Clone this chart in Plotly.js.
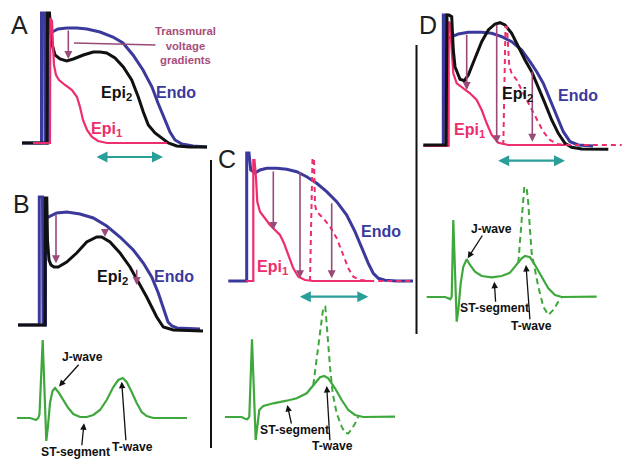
<!DOCTYPE html>
<html><head><meta charset="utf-8">
<script src="https://cdn.plot.ly/plotly-3.0.1.min.js"></script>
<style>html,body{margin:0;padding:0;background:#fff}#chart{width:623px;height:459px}</style>
</head><body><div id="chart"></div>
<script>
// ---------------- DATA (time, amplitude; local panel units) ----------------
// Panel A action potentials
const endoA_t = [22, 41.5, 41.5, 44.5, 45, 47.8, 47.8, 52, 58, 67, 77, 87, 100, 113, 123, 133, 143, 152, 158, 165, 170, 175, 182, 193, 207];
const endoA_v = [2, 2, 132, 132, 2, 2, 112, 113, 116, 117, 117, 116, 113, 108, 102, 90, 75, 58, 42, 25, 13, 5, 1, -1, -2];
const epi2A_t = [22, 47, 47.5, 49.5, 50.5, 51.7, 55, 60, 66.7, 73.3, 83.3, 93.3, 100, 106.7, 115, 123.3, 131.7, 138.3, 143.3, 148.3, 155, 161.7, 168.3, 176.7, 190, 207];
const epi2A_v = [2, 2, 132, 132, 115, 102, 90, 86, 84, 86, 90, 93, 93, 92, 87, 78, 65, 48, 33, 20, 12, 7, 2, -1, -2, -2];
const epi1A_t = [33, 50, 50.3, 52, 53, 54, 56, 59, 65, 72, 77, 80, 83, 87, 92, 98, 107, 167];
const epi1A_v = [2, 2, 127, 124, 100, 80, 70, 65, 60, 55, 48, 38, 25, 15, 8, 4, 2, 2];

// Panel B action potentials
const endoB_t = [18, 39.3, 39.3, 42.5, 43, 45.5, 45.5, 46.7, 56.7, 66.7, 80, 93.3, 106.7, 120, 133.3, 143.3, 151.7, 158.3, 165, 168, 172, 177, 200];
const endoB_v = [5, 5, 133, 133, 5, 5, 110, 112, 117, 118, 116, 112, 104, 93, 80, 67, 53, 37, 17, 8, 4, 2, 1];
const epi2B_t = [18, 45, 45.3, 46.8, 47.5, 49, 51, 54, 58.3, 66.7, 76.7, 86.7, 96.7, 101.7, 110, 120, 130, 138.3, 146.7, 156.7, 163.3, 173.3, 203];
const epi2B_v = [5, 5, 132, 132, 90, 70, 65, 63, 63, 68, 77, 88, 93, 93, 88, 77, 63, 48, 33, 13, 3, 0, -1];
// Panel B ECG
const ecgB_t = [17, 30, 33.3, 36, 38.3, 39.5, 42.7, 46.3, 48, 50, 52.5, 55, 58.3, 63.3, 68.3, 73.3, 80, 86.7, 93.3, 100, 106.7, 113.3, 118.3, 122.7, 126.7, 131.7, 136.7, 141.7, 146.7, 153.3, 166.7, 187];
const ecgB_v = [0, 0, -1, -2, 0, 4, 78, -23, -8, 15, 27, 30, 26, 18, 10, 4, 1, 1, 3, 8, 18, 31, 38, 40, 36, 26, 15, 6, 2, 0, 0, 0];

// Panel C action potentials
const endoC_t = [18.3, 36.7, 36.7, 39, 40.7, 45, 50, 56.7, 66.7, 76.7, 86.7, 96.7, 106.7, 116.7, 126.7, 136.7, 145, 151.7, 158.3, 163.3, 168.3, 175, 186.7, 203];
const endoC_v = [0, 0, 128, 128, 111, 108, 111, 112.7, 112.7, 111.7, 109.3, 104.3, 97.7, 89.3, 79.3, 66, 49.3, 32.7, 17.7, 7.7, 2.7, 0.7, 0, 0];
const epi1C_t = [36, 43.3, 43.3, 44.5, 46, 47.3, 50, 55, 60, 65, 70, 74, 78.3, 83.3, 88.3, 95, 103.3, 160];
const epi1C_v = [0, 0, 121, 121, 103, 79.3, 69.3, 62.7, 56, 51, 46, 37.7, 26, 12.7, 4.3, 1, 0, 0];
const epiDashC_t = [100, 102.5, 104, 105, 106.7, 113.3, 120, 126.7, 133.3, 138.3, 143.3, 150, 160, 203];
const epiDashC_v = [0, 122.7, 122.7, 76, 69.3, 62.7, 54.3, 42.7, 26, 12.7, 4.3, 1, 0, 0];
// Panel C ECG
const ecgC_t = [15, 31.7, 35, 37.3, 39.3, 42, 45.7, 47.3, 49.3, 53.3, 63.3, 76.7, 86.7, 96.7, 103.3, 110, 114.3, 118.3, 125, 131.7, 138.3, 145, 153.3, 185];
const ecgC_v = [0, 0, -1.7, -2.3, 0.3, 77.7, -23, -9.7, 7, 11, 13.7, 16.3, 18.7, 23.7, 32, 39.7, 41, 38.7, 28.7, 17, 7, 2, 0, 0.3];
const ecgCdash_t = [103.3, 113.3, 115.3, 117.3, 120, 122.7, 126.7, 131.7, 135, 138.3, 141.7, 146, 148.3];
const ecgCdash_v = [32, 109.7, 110.3, 83.7, 50.3, 23.7, 3.7, -9.7, -15.7, -16.3, -12.3, -4.7, 0.3];

// Panel D action potentials
const endoD_t = [28.3, 28.3, 31, 31.5, 33, 33, 36.7, 43.3, 53.3, 66.7, 76.7, 86.7, 96.7, 106.7, 115, 121.7, 128.3, 135, 141.7, 148.3, 155, 163.3, 178];
const endoD_v = [0, 130, 130, 0, 0, 106.7, 108.3, 111, 112.7, 112.7, 111.7, 108.3, 103.3, 95, 83.3, 73.3, 61.7, 45, 28.3, 13.3, 3.3, 0, -1];
const epi2D_t = [8.3, 31, 32, 34, 36.7, 38.3, 40, 45, 49.3, 53.3, 60, 66.7, 73.3, 80, 85, 90, 96.7, 103.3, 110, 116.7, 123.3, 130, 136.7, 143.3, 150, 156.7, 166.7, 193.3];
const epi2D_v = [0, 0, 130, 130, 128.3, 95, 78.3, 65.7, 64.3, 70, 86.7, 103.3, 115, 121, 122.3, 120, 111.7, 98.3, 85, 73.3, 58.3, 41.7, 25, 11.7, 1.7, -2.3, -4, -4.3];
const epi1D_t = [8.3, 33.3, 33.3, 35, 36.7, 38.3, 41.7, 48.3, 55, 61.7, 66.7, 71.7, 76.7, 83.3, 93.3, 150];
const epi1D_v = [-1, -1, 123.3, 121.7, 95, 71.7, 61.7, 56.7, 51.7, 45, 35, 21.7, 10, 2.3, 0, 0];
const epiDashD_t = [88.3, 90.5, 92, 93, 94.3, 96.7, 101.7, 108.3, 115, 121.7, 128.3, 135, 143.3, 155, 206.7];
const epiDashD_v = [0, 118.3, 118.3, 95, 78.3, 71.7, 65, 51.7, 38.3, 25, 13.3, 5, 0.7, 0, 0];
// Panel D ECG
const ecgD_t = [11.7, 30, 33.3, 35.3, 36.7, 38.3, 41.7, 43.3, 45.7, 48.3, 51.7, 55, 60, 66.7, 76.7, 86.7, 95, 101.7, 106.7, 110, 115, 120, 126.7, 133.3, 140, 146.7, 181.7];
const ecgD_v = [0, 0, -1.3, -2.3, 0.3, 77, -24.7, -13, 13.7, 30.3, 37.7, 32, 25.3, 21, 19.7, 21, 24.3, 32, 38.7, 41, 39.7, 32, 20.3, 8.7, 2, 0, 0.3];
const ecgDdash_t = [103.3, 109.3, 111.7, 113.3, 115, 116.7, 120, 123.3, 128.3, 133.3, 138.3, 143.3, 146.7];
const ecgDdash_v = [34.2, 110.3, 108.7, 93.7, 67, 43.7, 27, 10.3, -9.7, -18, -13, -4.7, -1.3];

// Transmural voltage gradient arrows (time, top level, bottom level)
const gradA_t = [68.3], gradA_top = [116], gradA_bot = [86];
const gradB_t = [56, 105, 136.7], gradB_top = [116.7, 102, 61.7], gradB_bot = [66.7, 93, 45];
const gradC_t = [63.3, 90, 121.7], gradC_top = [111, 110, 79.3], gradC_bot = [51, 2.7, 2.7];
const gradD_t = [51.7, 81.7, 117.3], gradD_top = [111.7, 121.7, 75], gradD_bot = [55, 1.7, 3.3];

// QT-interval (double) arrows: start, end, level
const qtA = [95, 163, -12];
const qtC = [88.3, 158.3, -15.7];
const qtD = [81.7, 150, -15.7];

// Texts
const panelLetters = ['A', 'B', 'C', 'D'];
const curveNames = {endo: 'Endo', epi1: 'Epi<sub>1</sub>', epi2: 'Epi<sub>2</sub>'};
const gradientText = 'Transmural<br>voltage<br>gradients';
const ecgNames = {j: 'J-wave', st: 'ST-segment', t: 'T-wave'};

// ---------------- STYLE / LAYOUT ----------------
const BLUE = '#3b3a9c', PINK = '#ee2d6c', BLACK = '#111111', MAUVE = '#9a4a78',
      TEAL = '#2a9e98', GREEN = '#3fa83d', GRADTXT = '#a84d7c';
const FONT = 'Liberation Sans, Arial, sans-serif';
const ECGFS = 12.2;
const W = 623, H = 459;

// panel boxes in pixels: [left, top, right, bottom], local x origin, local baseline
const boxes = {
  '':  {b: [0, 0, 212, 172], xo: 0, base: 145},     // A
  '2': {b: [0, 175, 210, 335], xo: 0, base: 330},   // B
  '3': {b: [0, 335, 210, 459], xo: 0, base: 418},   // B ECG
  '4': {b: [212, 145, 416, 300], xo: 210, base: 281}, // C
  '5': {b: [212, 300, 416, 459], xo: 210, base: 417}, // C ECG
  '6': {b: [417, 0, 623, 170], xo: 415, base: 145},   // D
  '7': {b: [417, 170, 623, 340], xo: 415, base: 297}  // D ECG
};

const layout = {
  width: W, height: H, margin: {l: 0, r: 0, t: 0, b: 0},
  paper_bgcolor: '#ffffff', plot_bgcolor: 'rgba(0,0,0,0)',
  showlegend: false, annotations: [], shapes: []
};
for (const k in boxes) {
  const bx = boxes[k], [L, T, R, B] = bx.b;
  layout['xaxis' + k] = {domain: [L / W, R / W], range: [L - bx.xo, R - bx.xo], visible: false, fixedrange: true, anchor: 'y' + k};
  layout['yaxis' + k] = {domain: [(H - B) / H, (H - T) / H], range: [bx.base - B, bx.base - T], visible: false, fixedrange: true, anchor: 'x' + k};
}

function ln(t, v, color, width, ax, dash) {
  return {type: 'scatter', mode: 'lines', x: t, y: v, xaxis: 'x' + ax, yaxis: 'y' + ax,
    line: {color: color, width: width, dash: dash || 'solid', shape: 'linear'},
    hoverinfo: 'skip', showlegend: false};
}

const traces = [
  ln(endoA_t, endoA_v, BLUE, 3, ''), ln(epi2A_t, epi2A_v, BLACK, 3, ''), ln(epi1A_t, epi1A_v, PINK, 2.2, ''),
  ln(endoB_t, endoB_v, BLUE, 3, '2'), ln(epi2B_t, epi2B_v, BLACK, 3, '2'),
  ln(ecgB_t, ecgB_v, GREEN, 2.2, '3'),
  ln(endoC_t, endoC_v, BLUE, 3, '4'), ln(epi1C_t, epi1C_v, PINK, 2.2, '4'), ln(epiDashC_t, epiDashC_v, PINK, 2, '4', '5px,4px'),
  ln(ecgC_t, ecgC_v, GREEN, 2.2, '5'), ln(ecgCdash_t, ecgCdash_v, GREEN, 2, '5', '6px,4px'),
  ln(endoD_t, endoD_v, BLUE, 3, '6'), ln(epi1D_t, epi1D_v, PINK, 2.2, '6'), ln(epi2D_t, epi2D_v, BLACK, 3, '6'), ln(epiDashD_t, epiDashD_v, PINK, 2, '6', '5px,4px'),
  ln(ecgD_t, ecgD_v, GREEN, 2.2, '7'), ln(ecgDdash_t, ecgDdash_v, GREEN, 2, '7', '6px,4px')
];

const ann = layout.annotations;
function txt(ax, x, y, text, color, size, bold, extra) {
  ann.push(Object.assign({xref: 'x' + ax, yref: 'y' + ax, x: x, y: y, text: bold ? '<b>' + text + '</b>' : text,
    showarrow: false, xanchor: 'center', yanchor: 'middle', font: {family: FONT, size: size, color: color}}, extra || {}));
}
function arrow(ax, x0, y0, x1, y1, color, width, head, extra) {
  ann.push(Object.assign({xref: 'x' + ax, yref: 'y' + ax, axref: 'x' + ax, ayref: 'y' + ax,
    x: x1, y: y1, ax: x0, ay: y0, text: '', showarrow: true, arrowhead: head, arrowsize: 1,
    arrowwidth: width, arrowcolor: color, standoff: 0, startstandoff: 0}, extra || {}));
}
function gradArrows(ax, t, top, bot) { for (let i = 0; i < t.length; i++) arrow(ax, t[i], top[i], t[i], bot[i], MAUVE, 1.6, 2); }
function qtArrow(ax, q) { arrow(ax, q[0], q[2], q[1], q[2], TEAL, 2.2, 2, {arrowside: 'end+start'}); }

// panel letters
txt('', 19, 120, panelLetters[0], '#1e1e1e', 25, false);
txt('2', 21.5, 126, panelLetters[1], '#1e1e1e', 25, false);
txt('4', 16.7, 121.8, panelLetters[2], '#1e1e1e', 25, false);
txt('6', 13.3, 120, panelLetters[3], '#1e1e1e', 25, false);

// Panel A
gradArrows('', gradA_t, gradA_top, gradA_bot);
arrow('', 157, 100, 74, 102, MAUVE, 1.4, 0);
txt('', 185, 100, gradientText, GRADTXT, 11.3, true);
txt('', 116, 52, curveNames.epi2, BLACK, 16, true);
txt('', 176, 53, curveNames.endo, BLUE, 16, true);
txt('', 106, 16, curveNames.epi1, PINK, 16, true);
qtArrow('', qtA);

// Panel B
gradArrows('2', gradB_t, gradB_top, gradB_bot);
txt('2', 112, 53, curveNames.epi2, BLACK, 16, true);
txt('2', 173.5, 54, curveNames.endo, BLUE, 16, true);
// ECG B
txt('3', 82, 60.5, ecgNames.j, BLACK, ECGFS, true);
txt('3', 75, -34.5, ecgNames.st, BLACK, ECGFS, true);
txt('3', 132, -29.5, ecgNames.t, BLACK, ECGFS, true);
arrow('3', 80, 54.7, 59, 31.5, BLACK, 1.3, 2);
arrow('3', 81.7, -28.7, 84, -5.3, BLACK, 1.3, 2);
arrow('3', 126, -23.7, 121.7, 36.3, BLACK, 1.3, 2);

// Panel C
gradArrows('4', gradC_t, gradC_top, gradC_bot);
txt('4', 170.8, 49.3, curveNames.endo, BLUE, 16, true);
txt('4', 62, 13.5, curveNames.epi1, PINK, 16, true);
qtArrow('4', qtC);
txt('5', 84, -12.5, ecgNames.st, BLACK, ECGFS, true);
txt('5', 122.5, -29.3, ecgNames.t, BLACK, ECGFS, true);
arrow('5', 81.7, -8, 77.3, 12, BLACK, 1.3, 2);
arrow('5', 120, -24.7, 116.7, 31, BLACK, 1.3, 2);

// Panel D
gradArrows('6', gradD_t, gradD_top, gradD_bot);
txt('6', 102.8, 50.7, curveNames.epi2, BLACK, 16, true);
txt('6', 162.5, 49.7, curveNames.endo, BLUE, 16, true);
txt('6', 54, 15, curveNames.epi1, PINK, 16, true);
qtArrow('6', qtD);
txt('7', 76, 68, ecgNames.j, BLACK, ECGFS, true);
txt('7', 79.2, -11.3, ecgNames.st, BLACK, ECGFS, true);
txt('7', 116.7, -28.5, ecgNames.t, BLACK, ECGFS, true);
arrow('7', 68.3, 63, 52.7, 38.7, BLACK, 1.3, 2);
arrow('7', 80.7, -6.3, 79.3, 15.3, BLACK, 1.3, 2);
arrow('7', 115, -23.7, 111, 32, BLACK, 1.3, 2);

// separator lines
layout.shapes.push({type: 'line', xref: 'paper', yref: 'paper', x0: 211 / W, x1: 211 / W, y0: 1 - 160 / H, y1: 1 - 448 / H, line: {color: '#111', width: 2}});
layout.shapes.push({type: 'line', xref: 'paper', yref: 'paper', x0: 416.5 / W, x1: 416.5 / W, y0: 1 - 45 / H, y1: 1 - 334 / H, line: {color: '#111', width: 2}});

Plotly.newPlot('chart', traces, layout, {staticPlot: true, displayModeBar: false});
</script></body></html>
